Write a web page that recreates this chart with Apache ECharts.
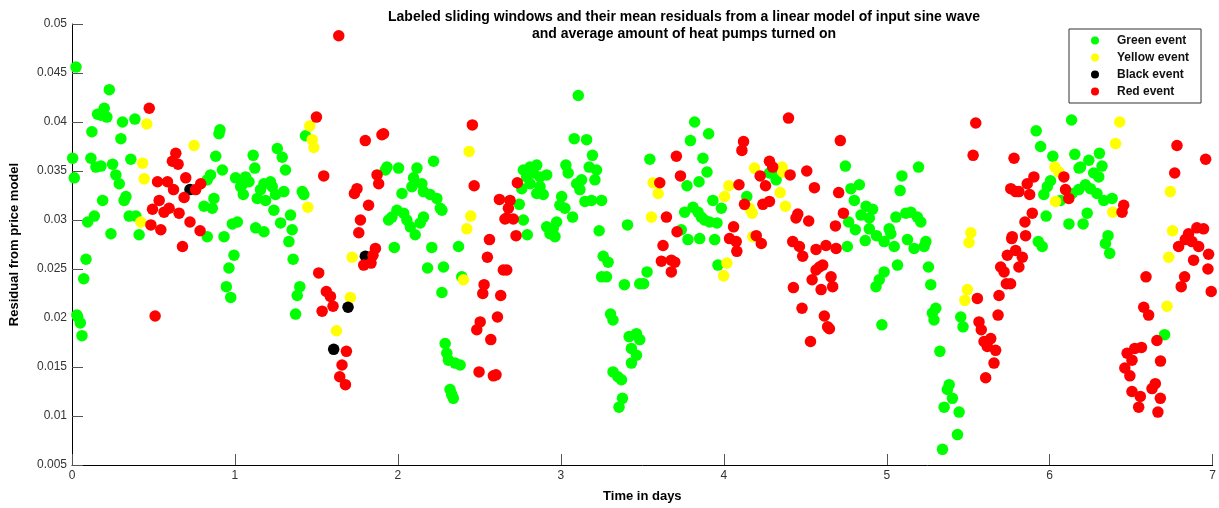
<!DOCTYPE html>
<html><head><meta charset="utf-8">
<script src="https://cdn.jsdelivr.net/npm/echarts@6/dist/echarts.min.js"></script>
<style>html,body{margin:0;padding:0;background:#fff}#c{width:1219px;height:508px}</style>
</head><body><div id="c"></div>
<script>
const xTicks = [0,1,2,3,4,5,6,7];
const yTicks = ["0.005","0.01","0.015","0.02","0.025","0.03","0.035","0.04","0.045","0.05"];
const seriesNames = ["Green event","Yellow event","Black event","Red event"];

const greenPts = [[0.0245,0.0456],[0.004,0.0363],[0.014,0.0343],[0.229,0.0433],[0.157,0.0408],[0.198,0.0414],[0.214,0.0405],[0.178,0.0407],[0.122,0.039],[0.31,0.04],[0.386,0.0403],[0.30,0.0383],[0.361,0.0362],[0.116,0.0363],[0.147,0.0354],[0.178,0.0355],[0.249,0.0357],[0.269,0.0346],[0.29,0.0337],[0.188,0.032],[0.331,0.0324],[0.32,0.032],[0.096,0.0298],[0.137,0.0304],[0.239,0.0286],[0.351,0.0304],[0.392,0.0304],[0.412,0.0285],[0.086,0.026],[0.072,0.024],[0.030,0.0203],[0.035,0.0201],[0.051,0.0195],[0.061,0.0182],
[0.83,0.0341],[0.85,0.0346],[0.902,0.0388],[0.908,0.0392],[0.882,0.0365],[0.923,0.0351],[0.81,0.0314],[0.871,0.0322],[0.861,0.0312],[0.83,0.0283],[0.933,0.0283],[0.984,0.0296],[1.015,0.0298],[0.994,0.0264],[0.963,0.0251],[0.947,0.0232],[0.974,0.0221],[1.004,0.0343],[1.045,0.0336],[1.065,0.0344],[1.086,0.0339],[1.051,0.0326],[1.035,0.0334],[1.112,0.0366],[1.122,0.0353],[1.137,0.0322],[1.127,0.0292],
[1.433,0.0386],[1.26,0.0373],[1.29,0.0364],[1.31,0.0351],[1.178,0.0337],[1.218,0.0339],[1.157,0.0331],[1.229,0.0334],[1.188,0.032],[1.249,0.0326],[1.3,0.0329],[1.239,0.031],[1.413,0.0329],[1.423,0.0326],[1.178,0.0288],[1.28,0.0297],[1.341,0.0305],[1.351,0.029],[1.331,0.0278],[1.357,0.026],[1.398,0.0232],[1.382,0.0223],[1.372,0.0204],
[1.933,0.0354],[1.923,0.0351],[2.004,0.0353],[2.117,0.0353],[2.219,0.036],[2.096,0.0343],[2.147,0.0337],[2.157,0.0329],[2.198,0.0326],[2.239,0.0322],[2.26,0.0312],[2.025,0.0327],[2.086,0.0334],[1.994,0.031],[2.035,0.0307],[2.055,0.03],[1.943,0.03],[1.963,0.0303],[2.076,0.0293],[2.106,0.0285],[2.137,0.0297],[2.157,0.0303],[1.978,0.0272],[2.208,0.0272],[2.182,0.0251],[2.28,0.0252],[2.27,0.0226],[2.29,0.0174],[2.3,0.0164],[2.31,0.0157],[2.32,0.0127],[2.33,0.0122],[2.34,0.0118],[2.351,0.0154],[2.382,0.0152],[2.27,0.031],
[3.107,0.0427],[3.082,0.0383],[3.158,0.0382],[3.194,0.0366],[3.031,0.0356],[3.045,0.0348],[3.174,0.0354],[3.219,0.0351],[3.209,0.0341],[3.097,0.0337],[3.127,0.0341],[3.117,0.0331],[3.148,0.0319],[3.188,0.032],[3.25,0.032],[3.005,0.0324],[2.994,0.0315],[3.025,0.0312],[3.072,0.0303],
[2.77,0.0351],[2.811,0.0354],[2.852,0.0356],[2.79,0.0344],[2.831,0.0348],[2.872,0.0344],[2.913,0.0346],[2.811,0.0337],[2.872,0.0334],[2.852,0.0327],[2.892,0.0326],[2.76,0.0332],[2.745,0.0316],[2.77,0.03],[2.794,0.0285],[2.913,0.0293],[2.933,0.0286],[2.974,0.0298],[2.964,0.0283],[2.953,0.0291],[3.235,0.0289],[3.409,0.0295],[2.372,0.0273],[2.392,0.0242],[3.26,0.0263],[3.29,0.0257],[3.25,0.0242],[3.28,0.0242],[3.39,0.0234],[3.484,0.0235],[3.305,0.0204],[3.32,0.0198],[3.419,0.0181],[3.433,0.0169],[3.464,0.0184],[3.484,0.0178],[3.464,0.0162],[3.433,0.0154],[3.32,0.0145],[3.35,0.014],[3.372,0.0137],[3.378,0.0118],[3.357,0.0109],
[3.821,0.04],[3.907,0.0388],[3.795,0.0381],[3.546,0.0362],[3.872,0.0363],[3.897,0.0349],[3.848,0.0339],[3.774,0.0335],[3.933,0.032],[3.985,0.0312],[3.76,0.0308],[3.811,0.0313],[3.842,0.0308],[3.862,0.0303],[3.882,0.03],[3.913,0.0298],[3.958,0.0297],[3.739,0.029],[3.78,0.028],[3.852,0.0281],[3.944,0.028],[3.529,0.0247],[3.508,0.0235],[4.3,0.0351],[4.321,0.0341],[4.28,0.0348],[4.141,0.0324],[3.964,0.0254],
[4.746,0.0355],[5.195,0.0354],[5.093,0.0345],[5.082,0.033],[4.78,0.0332],[4.832,0.0336],[4.801,0.032],[4.873,0.0314],[4.913,0.0311],[4.842,0.0305],[4.893,0.0302],[4.766,0.0298],[4.807,0.029],[4.868,0.0279],[4.893,0.0291],[4.937,0.0284],[4.758,0.0273],[5.056,0.0303],[5.015,0.0291],[4.984,0.0278],[5.046,0.0273],[5.025,0.0286],[5.117,0.0307],[5.148,0.0308],[5.188,0.0303],[5.209,0.0298],[5.127,0.028],[5.168,0.0271],[5.229,0.0273],[5.24,0.0278],[5.066,0.0254],[4.984,0.0247],[4.954,0.0239],[4.934,0.0232],[4.97,0.0193],[5.256,0.0252],[5.27,0.0234],[5.301,0.021],[5.28,0.0205],[5.29,0.0198],[5.326,0.0166],[5.454,0.0201],[5.468,0.0191],[5.383,0.0132],[5.372,0.0127],[5.403,0.0118],[5.352,0.0109],[5.444,0.0104],[5.434,0.0081],[5.342,0.0066],
[6.134,0.0402],[5.917,0.0391],[5.944,0.0375],[6.019,0.0365],[6.154,0.0367],[6.189,0.0354],[6.24,0.0361],[6.18,0.0353],[6.305,0.0368],[6.321,0.0355],[6.27,0.0348],[6.301,0.0344],[6.005,0.034],[5.985,0.0334],[5.964,0.0326],[6.137,0.0327],[6.178,0.0331],[6.219,0.0336],[6.25,0.0332],[6.29,0.0327],[6.332,0.032],[6.383,0.0322],[6.066,0.032],[5.978,0.0304],[6.23,0.0307],[6.118,0.0296],[6.205,0.0296],[5.93,0.0278],[5.954,0.0273],[6.358,0.0284],[6.342,0.0276],[6.368,0.0266],[6.705,0.0183]];

const yellowPts = [[0.459,0.0398],[0.749,0.0376],[0.433,0.0358],[0.443,0.0342],[0.422,0.0298],[1.459,0.0396],[1.474,0.0382],[1.484,0.0374],[1.447,0.0313],[1.719,0.0262],[1.708,0.0221],[1.623,0.0187],[2.437,0.037],[2.447,0.0304],[2.423,0.0291],[2.402,0.0239],[3.566,0.0338],[3.597,0.0327],[3.556,0.0303],[4.188,0.0353],[4.358,0.0354],[4.362,0.0349],[4.031,0.0335],[4.005,0.0324],[4.346,0.0328],[4.158,0.0312],[4.174,0.0307],[4.378,0.0314],[4.178,0.0283],[4.019,0.0256],[3.999,0.0243],[5.516,0.0287],[5.505,0.0277],[5.495,0.0229],[5.479,0.0218],[6.43,0.04],[6.404,0.0378],[6.032,0.0354],[6.056,0.0349],[6.036,0.0319],[6.387,0.0308],[6.74,0.0329],[6.754,0.0289],[6.73,0.0262],[6.72,0.0212]];

const blackPts = [[0.724,0.0331],[1.80,0.0263],[1.694,0.0211],[1.606,0.0168]];

const redPts = [[0.474,0.0414],[0.637,0.0368],[0.616,0.036],[0.651,0.0357],[0.698,0.0343],[0.525,0.0339],[0.586,0.0339],[0.623,0.0331],[0.535,0.032],[0.494,0.0311],[0.565,0.0308],[0.596,0.0312],[0.657,0.0307],[0.688,0.0323],[0.759,0.0331],[0.79,0.0337],[0.484,0.0295],[0.545,0.029],[0.724,0.0298],[0.786,0.0289],[0.678,0.0273],[0.51,0.0202],
[1.637,0.0488],[1.5,0.0405],[1.80,0.0381],[1.902,0.0387],[1.912,0.0388],[1.545,0.0345],[1.872,0.0346],[1.882,0.0337],[1.749,0.0332],[1.733,0.0327],[1.82,0.0315],[1.77,0.03],[1.76,0.0287],[1.862,0.0271],[1.847,0.0264],[1.79,0.0254],[1.835,0.0256],[1.514,0.0246],[1.561,0.0227],[1.586,0.0222],[1.602,0.0212],[1.535,0.0207],[1.684,0.0166],[1.657,0.0152],[1.643,0.014],[1.678,0.0132],
[2.457,0.0397],[2.468,0.0335],[2.733,0.0338],[2.623,0.0321],[2.688,0.032],[2.678,0.0312],[2.668,0.0302],[2.657,0.0301],[2.708,0.0301],[2.725,0.0284],[2.562,0.028],[2.549,0.0262],[2.647,0.0249],[2.668,0.0249],[2.529,0.0234],[2.521,0.0225],[2.631,0.0223],[2.611,0.0201],[2.505,0.0196],[2.484,0.0188],[2.57,0.0178],[2.498,0.0145],[2.586,0.0141],[2.602,0.0142],
[4.397,0.0404],[4.121,0.038],[4.111,0.0371],[3.709,0.0365],[4.28,0.036],[4.3,0.0354],[4.509,0.035],[3.734,0.0345],[3.607,0.0338],[4.223,0.0345],[4.256,0.0335],[4.407,0.0346],[4.093,0.0336],[4.556,0.0333],[4.127,0.0316],[4.24,0.0316],[4.28,0.0319],[3.648,0.0303],[4.454,0.0306],[4.443,0.0302],[4.521,0.0299],[3.713,0.0288],[4.06,0.0293],[4.035,0.0281],[4.076,0.0278],[4.08,0.0268],[4.199,0.0284],[4.23,0.0276],[3.627,0.0274],[4.423,0.0278],[4.464,0.0273],[4.484,0.0263],[4.566,0.027],[4.627,0.0274],[3.617,0.0258],[3.678,0.0259],[3.699,0.0257],[3.678,0.0247],[4.587,0.0252],[4.607,0.0254],[4.566,0.0249],[4.542,0.0239],[4.597,0.0229],[4.427,0.0231],[4.48,0.021],[4.617,0.0202],[4.637,0.0191],[4.532,0.0176],
[4.715,0.0381],[5.546,0.0399],[5.53,0.0366],[5.781,0.0363],[4.705,0.0328],[4.734,0.0307],[4.685,0.0294],[4.689,0.0271],[4.658,0.0242],[4.668,0.0232],[4.648,0.0189],[5.761,0.0332],[5.791,0.0329],[5.767,0.0281],[5.74,0.0264],[5.791,0.0269],[5.699,0.0252],[5.72,0.0247],[5.734,0.0235],[5.689,0.0223],[5.683,0.0203],[5.556,0.022],[5.566,0.0196],[5.58,0.0188],[5.597,0.0176],[5.638,0.0179],[5.617,0.0171],[5.668,0.0167],[5.658,0.0154],[5.607,0.0139],
[6.781,0.0376],[6.767,0.0348],[6.957,0.0362],[5.903,0.0344],[5.862,0.0337],[5.811,0.0329],[5.877,0.0326],[6.087,0.0344],[6.097,0.0331],[6.117,0.0322],[6.454,0.0315],[6.444,0.0308],[5.893,0.0307],[5.848,0.0298],[5.77,0.0283],[5.852,0.0284],[5.832,0.0262],[5.811,0.0252],[5.76,0.0235],[6.903,0.0292],[6.944,0.0291],[6.852,0.0286],[6.832,0.028],[6.791,0.0273],[6.873,0.0278],[6.914,0.0273],[6.883,0.0259],[6.975,0.0265],[6.971,0.025],[6.991,0.0227],[6.828,0.0242],[6.807,0.0232],[6.591,0.0242],[6.577,0.0211],[6.607,0.0203],[6.658,0.0177],[6.475,0.0164],[6.522,0.0169],[6.563,0.017],[6.505,0.0157],[6.68,0.0156],[6.461,0.0149],[6.492,0.0141],[6.505,0.0125],[6.556,0.012],[6.546,0.0109],[6.628,0.0128],[6.648,0.0133],[6.679,0.0118],[6.664,0.0104]];

const colors = ['#00ff00','#ffff00','#000000','#ff0000'];
const allData = [greenPts, yellowPts, blackPts, redPts];
const FONT = 'Liberation Sans, Arial, sans-serif';

const chart = echarts.init(document.getElementById('c'), null, {renderer:'canvas'});
chart.setOption({
  animation: false,
  backgroundColor: '#ffffff',
  title: {
    text: 'Labeled sliding windows and their mean residuals from a linear model of input sine wave\nand average amount of heat pumps turned on',
    left: 684, top: 9, padding: 0, textAlign: 'center',
    textStyle: {fontFamily: FONT, fontSize: 14, fontWeight: 'bold', color: '#000', lineHeight: 17}
  },
  legend: {
    data: seriesNames,
    orient: 'vertical',
    left: 1069, top: 29,
    padding: [5, 12, 5, 22],
    itemGap: 4,
    itemWidth: 8, itemHeight: 8,
    icon: 'circle',
    borderColor: '#333', borderWidth: 1,
    backgroundColor: '#fff',
    textStyle: {fontFamily: FONT, fontSize: 12, fontWeight: 'bold', color: '#111', lineHeight: 13, padding: [0,0,0,13]}
  },
  grid: {left: 71, right: 5, top: 24, bottom: 43, containLabel: false},
  xAxis: {
    type: 'value', min: 0, max: 7, interval: 1,
    name: 'Time in days', nameLocation: 'middle', nameGap: 25,
    nameTextStyle: {fontFamily: FONT, fontSize: 13, fontWeight: 'bold', color: '#000'},
    axisLine: {show: true, lineStyle: {color: '#000', width: 1}},
    axisTick: {show: true, inside: true, length: 11, lineStyle: {color: '#555'}},
    axisLabel: {fontFamily: FONT, fontSize: 12, color: '#333', margin: 5,
      formatter: v => { const t = xTicks.find(k => Math.abs(k - v) < 1e-9); return t === undefined ? '' : String(t); }},
    splitLine: {show: false}
  },
  yAxis: {
    type: 'value', min: 0.005, max: 0.05, interval: 0.005,
    name: 'Residual from price model', nameLocation: 'middle', nameGap: 51, nameRotate: 90,
    nameTextStyle: {fontFamily: FONT, fontSize: 13, fontWeight: 'bold', color: '#000'},
    axisLine: {show: true, lineStyle: {color: '#000', width: 1}},
    axisTick: {show: true, inside: true, length: 11, lineStyle: {color: '#555'}},
    axisLabel: {fontFamily: FONT, fontSize: 12, color: '#333', margin: 5,
      formatter: v => { const t = yTicks.find(k => Math.abs(parseFloat(k) - v) < 1e-7); return t === undefined ? '' : t; }},
    splitLine: {show: false}
  },
  series: seriesNames.map((n, i) => ({
    name: n, type: 'scatter', data: allData[i], symbol: 'circle', symbolSize: 11.5,
    itemStyle: {color: colors[i], opacity: 1}, z: 2 + i
  }))
});
</script></body></html>
